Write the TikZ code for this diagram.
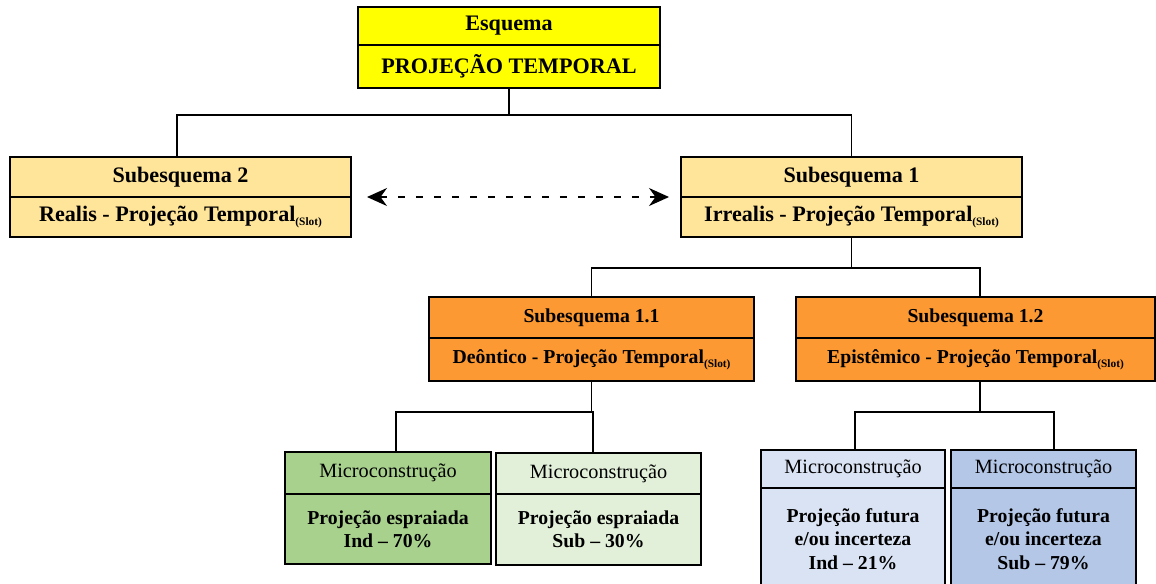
\documentclass[tikz,border=0pt]{standalone}
\usepackage{fontspec}
\setmainfont{Liberation Serif}
\usetikzlibrary{positioning,arrows.meta}

\definecolor{esqyellow}{RGB}{255,255,0}
\definecolor{subgold}{RGB}{255,229,153}
\definecolor{suborange}{RGB}{252,153,51}
\definecolor{microgreen}{RGB}{169,209,142}
\definecolor{microlgreen}{RGB}{226,240,217}
\definecolor{microlblue}{RGB}{218,227,243}
\definecolor{microblue}{RGB}{180,199,231}

\newcommand{\slotsub}{\raisebox{-0.4ex}{\fontsize{8.5}{9}\selectfont(Slot)}}

\tikzset{
  cell/.style={draw, line width=1.3pt, inner sep=0pt, outer sep=0pt, align=center, anchor=north},
  bigtxt/.style={font=\bfseries\fontsize{16.6}{19}\selectfont},
  midtxt/.style={font=\bfseries\fontsize{14.8}{17}\selectfont},
  microhead/.style={font=\fontsize{15.2}{17}\selectfont},
  microbody/.style={font=\bfseries\fontsize{14.8}{17.5}\selectfont},
  link/.style={line width=1.3pt},
}

\begin{document}
\begin{tikzpicture}[x=0.75pt,y=-0.75pt]
    \clip (0,0) rectangle (1156,583);

    % esquema
    \node[cell, bigtxt, fill=esqyellow, minimum width=226.5pt, minimum height=28.5pt] (esq) at (509,7) {Esquema};
    \node[cell, bigtxt, fill=esqyellow, minimum width=226.5pt, minimum height=32.25pt, below=0pt of esq] (esqb) {PROJEÇÃO TEMPORAL};

    % subesquemas
    \node[cell, bigtxt, fill=subgold, minimum width=255.75pt, minimum height=30pt] (s2) at (180.5,157) {Subesquema 2};
    \node[cell, bigtxt, fill=subgold, minimum width=255.75pt, minimum height=30pt, below=0pt of s2] (s2b) {Realis - Projeção Temporal\slotsub};
    \node[cell, bigtxt, fill=subgold, minimum width=255.75pt, minimum height=30pt] (s1) at (851.5,157) {Subesquema 1};
    \node[cell, bigtxt, fill=subgold, minimum width=255.75pt, minimum height=30pt, below=0pt of s1] (s1b) {Irrealis - Projeção Temporal\slotsub};

    \node[cell, midtxt, fill=suborange, minimum width=243.75pt, minimum height=30.75pt] (s11) at (591.5,297) {Subesquema 1.1};
    \node[cell, midtxt, fill=suborange, minimum width=243.75pt, minimum height=32.25pt, below=0pt of s11] (s11b) {Deôntico - Projeção Temporal\slotsub};
    \node[cell, midtxt, fill=suborange, minimum width=269.25pt, minimum height=30.75pt] (s12) at (975.5,297) {Subesquema 1.2};
    \node[cell, midtxt, fill=suborange, minimum width=269.25pt, minimum height=32.25pt, below=0pt of s12] (s12b) {Epistêmico - Projeção Temporal\slotsub};

    % microconstrucoes
    \node[cell, microhead, fill=microgreen, minimum width=154.5pt, minimum height=31.5pt] (m1) at (388,452) {Microconstrução};
    \node[cell, microbody, fill=microgreen, minimum width=154.5pt, minimum height=52.5pt, below=0pt of m1] (m1b) {Projeção espraiada\\Ind – 70\%};
    \node[cell, microhead, fill=microlgreen, minimum width=153.75pt, minimum height=30.75pt] (m2) at (598.5,453) {Microconstrução};
    \node[cell, microbody, fill=microlgreen, minimum width=153.75pt, minimum height=53.25pt, below=0pt of m2] (m2b) {Projeção espraiada\\Sub – 30\%};
    \node[cell, microhead, fill=microlblue, minimum width=138pt, minimum height=28.5pt] (m3) at (853,450) {Microconstrução};
    \node[cell, microbody, fill=microlblue, minimum width=138pt, minimum height=76.5pt, below=0pt of m3] (m3b) {Projeção futura\\e/ou incerteza\\Ind – 21\%};
    \node[cell, microhead, fill=microblue, minimum width=138.75pt, minimum height=28.5pt] (m4) at (1043.5,450) {Microconstrução};
    \node[cell, microbody, fill=microblue, minimum width=138.75pt, minimum height=76.5pt, below=0pt of m4] (m4b) {Projeção futura\\e/ou incerteza\\Sub – 79\%};

    % ligacoes
    \draw[link] (esqb.south) -- ++(0,27) -| ([xshift=-2.5pt]s2.north);
    \draw[link] (esqb.south) -- ++(0,27) -| (s1.north);
    \draw[link] (s1b.south) -- ++(0,31) -| (s11.north);
    \draw[link] (s1b.south) -- ++(0,31) -| ([xshift=3.4pt]s12.north);
    \draw[link] (s11b.south) -- ++(0,31) -| ([xshift=6pt]m1.north);
    \draw[link] (s11b.south) -- ++(0,31) -| ([xshift=-4pt]m2.north);
    \draw[link] ([xshift=3.4pt]s12b.south) -- ++(0,31) -| ([xshift=1.5pt]m3.north);
    \draw[link] ([xshift=3.4pt]s12b.south) -- ++(0,31) -| ([xshift=8pt]m4.north);

    \draw[line width=1.1pt, dash pattern=on 5.5pt off 8pt, {Stealth[length=15pt,width=13.5pt]}-{Stealth[length=15pt,width=13.5pt]}] ([xshift=12pt]s2.south east) -- ([xshift=-9pt]s1.south west);
\end{tikzpicture}
\end{document}
